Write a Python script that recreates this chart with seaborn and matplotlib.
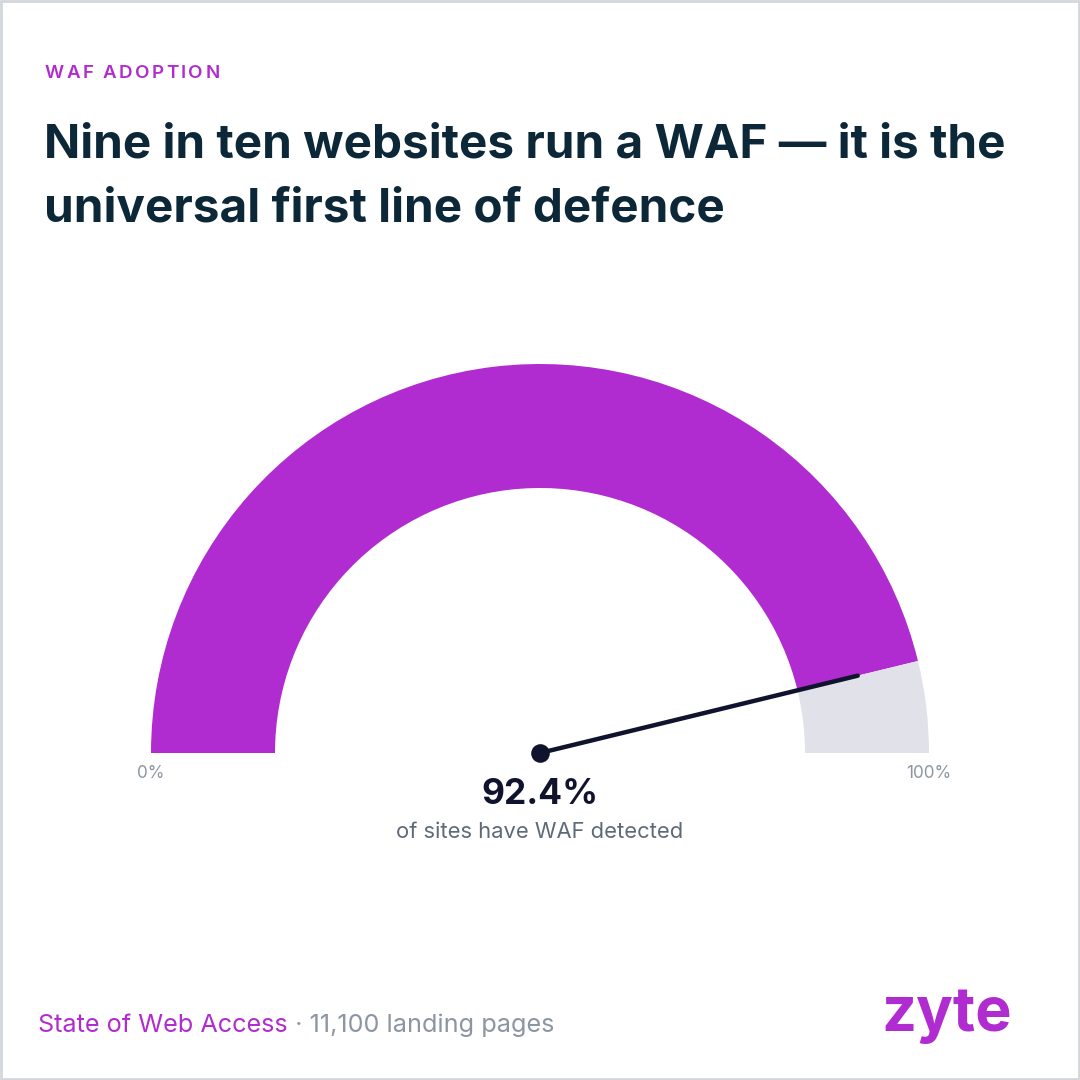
import numpy as np
import pandas as pd
import seaborn as sns
import matplotlib.pyplot as plt
from matplotlib.patches import Wedge, Rectangle

# data
eyebrow = 'WAF ADOPTION'
title_lines = ['Nine in ten websites run a WAF — it is the', 'universal first line of defence']
waf_share = 92.4           # percent of sites with WAF detected
scale_min, scale_max = 0, 100
value_caption = 'of sites have WAF detected'
source_main = 'State of Web Access'
source_note = ' · 11,100 landing pages'
brand = 'zyte'

purple = '#B12CD0'
track = '#E1E1EA'
ink = '#0C2838'
needle_col = '#10132E'
muted = '#8C96A2'

sns.set_theme(style='white')
plt.rcParams['font.family'] = ['Inter', 'DejaVu Sans']

fig = plt.figure(figsize=(10.8, 10.8), dpi=100)
ax = fig.add_axes([0, 0, 1, 1])
ax.set_xlim(0, 1080)
ax.set_ylim(0, 1080)
ax.set_aspect('equal')
ax.axis('off')

# border
ax.add_patch(Rectangle((1, 1), 1078, 1078, fill=False, ec='#D3D7DC', lw=2))

# header, eyebrow with letter spacing
prev = ax.text(45, 1080 - 73, eyebrow[0], color=purple, fontsize=13.5, fontweight='semibold',
               va='center', ha='left')
for ch in eyebrow[1:]:
    prev = ax.annotate(ch, xy=(1, 0.5), xycoords=prev, xytext=(1.7, 0),
                       textcoords='offset points', color=purple, fontsize=13.5,
                       fontweight='semibold', va='center', ha='left')
for i, line in enumerate(title_lines):
    ax.text(44, 1080 - 145 - i * 65, line, color=ink, fontsize=34.3, fontweight='bold',
            va='center', ha='left')

# gauge
cx, cy = 540, 1080 - 753
r_out, band = 389, 124
frac = (waf_share - scale_min) / (scale_max - scale_min)
ang = 180 * (1 - frac)
ax.add_patch(Wedge((cx, cy), r_out, ang, 180, width=band, color=purple, lw=0))
ax.add_patch(Wedge((cx, cy), r_out, 0, ang, width=band, color=track, lw=0))

needle_len = r_out - band / 2
needle = pd.DataFrame({
    'x': [cx, cx + needle_len * np.cos(np.radians(ang))],
    'y': [cy, cy + needle_len * np.sin(np.radians(ang))],
})
sns.lineplot(data=needle, x='x', y='y', ax=ax, color=needle_col, lw=3.2,
             solid_capstyle='round', sort=False)
ax.scatter([cx], [cy], s=180, color=needle_col, zorder=5, lw=0)

ax.text(cx - r_out, cy - 21, f'{scale_min}%', color=muted, fontsize=12.3,
        ha='center', va='center')
ax.text(cx + r_out, cy - 21, f'{scale_max}%', color=muted, fontsize=12.3,
        ha='center', va='center')

ax.text(cx, 1080 - 795, f'{waf_share}%', color=needle_col, fontsize=25.5, fontweight='bold',
        ha='center', va='center')
ax.text(cx, 1080 - 832, value_caption, color='#5E6A78', fontsize=15.8,
        ha='center', va='center')

# footer
t1 = ax.text(38, 1080 - 1025, source_main, color=purple, fontsize=18.2, ha='left', va='center')
ax.annotate(source_note, xy=(1, 0.5), xycoords=t1, color=muted, fontsize=18.2,
            ha='left', va='center')
ax.text(1012, 1080 - 1015, brand, color=purple, fontsize=44, fontweight='bold',
        ha='right', va='center')

plt.savefig('out.png', dpi=100)
